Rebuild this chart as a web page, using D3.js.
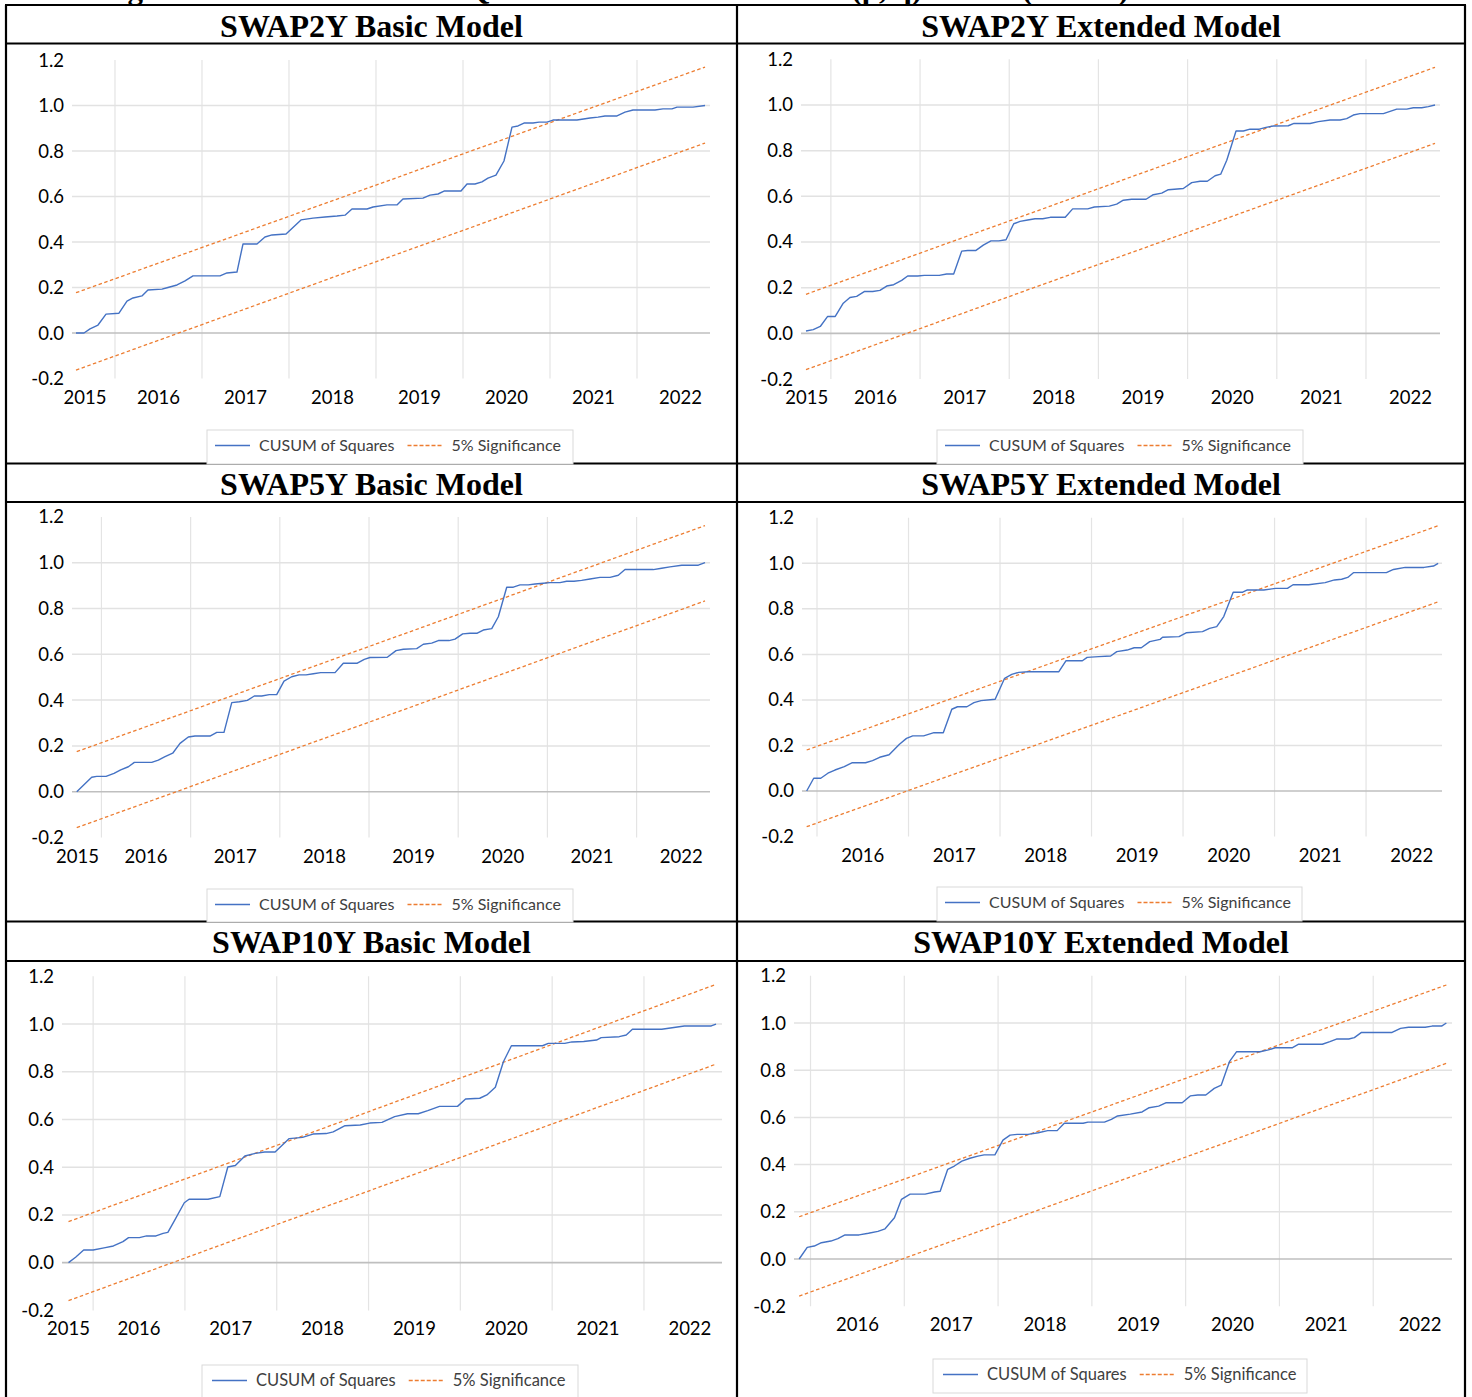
<!DOCTYPE html>
<html>
<head>
<meta charset="utf-8">
<script src="https://cdn.jsdelivr.net/npm/d3@7"></script>
<style>
  html, body { margin: 0; padding: 0; background: #ffffff; }
  svg { display: block; }
</style>
</head>
<body>
<svg id="chart" width="1472" height="1397"></svg>
<script>
// ---------------- DATA ----------------
const xTickYears = [2015, 2016, 2017, 2018, 2019, 2020, 2021, 2022];
const yTickValues = [-0.2, 0.0, 0.2, 0.4, 0.6, 0.8, 1.0, 1.2];
const seriesNames = ["CUSUM of Squares", "5% Significance"];
const panelTitles = ["SWAP2Y Basic Model", "SWAP2Y Extended Model", "SWAP5Y Basic Model",
                     "SWAP5Y Extended Model", "SWAP10Y Basic Model", "SWAP10Y Extended Model"];
const captionText = "Figure 6: Plots of CUSUMSQ Test Results for the ARDL (p, q) Model (SWAP)";

// CUSUM of squares: [time in years, value]
const swap2yBasic = [[2015.052,0],[2015.144,0],[2015.213,0.018],[2015.305,0.035],[2015.397,0.083],[2015.546,0.087],[2015.638,0.14],[2015.707,0.154],[2015.810,0.163],[2015.879,0.189],[2016.040,0.193],[2016.109,0.20],[2016.213,0.211],[2016.305,0.229],[2016.397,0.251],[2016.707,0.251],[2016.787,0.264],[2016.902,0.268],[2016.971,0.391],[2017.132,0.391],[2017.224,0.422],[2017.305,0.431],[2017.466,0.435],[2017.638,0.497],[2017.776,0.505],[2017.914,0.51],[2018.052,0.514],[2018.144,0.518],[2018.224,0.545],[2018.397,0.545],[2018.466,0.554],[2018.626,0.563],[2018.741,0.563],[2018.810,0.589],[2019.040,0.593],[2019.121,0.606],[2019.213,0.611],[2019.282,0.624],[2019.477,0.624],[2019.546,0.655],[2019.638,0.655],[2019.718,0.664],[2019.787,0.681],[2019.879,0.694],[2019.971,0.756],[2020.063,0.905],[2020.132,0.91],[2020.201,0.923],[2020.305,0.923],[2020.374,0.927],[2020.466,0.927],[2020.534,0.936],[2020.810,0.936],[2020.960,0.945],[2021.052,0.949],[2021.132,0.954],[2021.270,0.954],[2021.362,0.971],[2021.454,0.98],[2021.707,0.98],[2021.799,0.985],[2021.902,0.985],[2021.960,0.993],[2022.144,0.993],[2022.282,1.0]];
const swap2yExtended = [[2015.221,0.010],[2015.302,0.016],[2015.381,0.030],[2015.464,0.074],[2015.549,0.074],[2015.639,0.132],[2015.714,0.157],[2015.789,0.162],[2015.874,0.183],[2015.969,0.183],[2016.050,0.188],[2016.126,0.207],[2016.204,0.213],[2016.294,0.232],[2016.361,0.251],[2016.473,0.251],[2016.547,0.254],[2016.715,0.254],[2016.798,0.260],[2016.877,0.260],[2016.967,0.360],[2017.034,0.363],[2017.127,0.363],[2017.209,0.386],[2017.295,0.405],[2017.382,0.405],[2017.464,0.410],[2017.550,0.480],[2017.621,0.490],[2017.707,0.496],[2017.789,0.502],[2017.875,0.502],[2017.960,0.508],[2018.128,0.508],[2018.211,0.545],[2018.380,0.545],[2018.454,0.553],[2018.622,0.557],[2018.705,0.566],[2018.779,0.583],[2018.873,0.587],[2019.034,0.587],[2019.115,0.607],[2019.210,0.614],[2019.284,0.629],[2019.452,0.634],[2019.546,0.660],[2019.640,0.666],[2019.721,0.666],[2019.808,0.690],[2019.871,0.697],[2019.939,0.758],[2020.043,0.886],[2020.125,0.886],[2020.200,0.894],[2020.304,0.894],[2020.379,0.902],[2020.461,0.908],[2020.629,0.909],[2020.693,0.919],[2020.873,0.919],[2020.966,0.927],[2021.097,0.934],[2021.209,0.934],[2021.284,0.940],[2021.358,0.956],[2021.433,0.962],[2021.695,0.962],[2021.770,0.972],[2021.845,0.982],[2021.957,0.982],[2022.031,0.988],[2022.125,0.988],[2022.199,0.993],[2022.274,1.0]];
const swap5yBasic = [[2015.223,0],[2015.391,0.063],[2015.447,0.067],[2015.552,0.067],[2015.641,0.080],[2015.716,0.095],[2015.802,0.109],[2015.869,0.128],[2016.064,0.128],[2016.138,0.138],[2016.213,0.153],[2016.299,0.168],[2016.381,0.211],[2016.474,0.239],[2016.549,0.243],[2016.717,0.243],[2016.793,0.259],[2016.874,0.259],[2016.961,0.389],[2017.046,0.393],[2017.136,0.399],[2017.214,0.418],[2017.297,0.418],[2017.382,0.424],[2017.465,0.424],[2017.547,0.483],[2017.633,0.502],[2017.715,0.510],[2017.794,0.510],[2017.876,0.515],[2017.958,0.520],[2018.119,0.520],[2018.212,0.561],[2018.369,0.561],[2018.447,0.578],[2018.511,0.586],[2018.705,0.587],[2018.803,0.616],[2018.885,0.622],[2019.035,0.625],[2019.109,0.644],[2019.203,0.649],[2019.277,0.660],[2019.397,0.660],[2019.464,0.666],[2019.550,0.689],[2019.632,0.692],[2019.714,0.692],[2019.781,0.706],[2019.876,0.712],[2019.950,0.764],[2020.044,0.893],[2020.118,0.893],[2020.193,0.903],[2020.286,0.903],[2020.361,0.907],[2020.454,0.910],[2020.529,0.913],[2020.641,0.913],[2020.716,0.919],[2020.798,0.919],[2020.884,0.923],[2020.978,0.929],[2021.090,0.936],[2021.202,0.936],[2021.295,0.945],[2021.370,0.970],[2021.687,0.970],[2021.781,0.976],[2021.874,0.982],[2022.006,0.989],[2022.192,0.989],[2022.267,1.0]];
const swap5yExtended = [[2015.387,0],[2015.464,0.056],[2015.541,0.056],[2015.619,0.078],[2015.696,0.092],[2015.798,0.107],[2015.886,0.124],[2016.030,0.124],[2016.107,0.133],[2016.185,0.148],[2016.288,0.159],[2016.401,0.205],[2016.478,0.231],[2016.546,0.242],[2016.665,0.242],[2016.778,0.256],[2016.880,0.256],[2016.973,0.359],[2017.035,0.370],[2017.138,0.370],[2017.215,0.388],[2017.293,0.397],[2017.447,0.403],[2017.550,0.495],[2017.628,0.512],[2017.705,0.521],[2017.807,0.524],[2018.143,0.524],[2018.220,0.572],[2018.400,0.572],[2018.452,0.587],[2018.580,0.590],[2018.709,0.593],[2018.776,0.612],[2018.889,0.619],[2018.966,0.629],[2019.044,0.629],[2019.136,0.656],[2019.250,0.666],[2019.276,0.675],[2019.456,0.678],[2019.534,0.695],[2019.713,0.700],[2019.790,0.714],[2019.868,0.722],[2019.945,0.766],[2020.048,0.873],[2020.152,0.873],[2020.203,0.883],[2020.383,0.883],[2020.512,0.890],[2020.641,0.890],[2020.702,0.906],[2020.872,0.906],[2021.053,0.915],[2021.155,0.927],[2021.233,0.930],[2021.300,0.938],[2021.362,0.959],[2021.722,0.959],[2021.800,0.973],[2021.928,0.982],[2022.134,0.982],[2022.237,0.988],[2022.288,1.0]];
const swap10yBasic = [[2015.232,0],[2015.309,0.023],[2015.397,0.053],[2015.500,0.053],[2015.619,0.062],[2015.721,0.070],[2015.825,0.088],[2015.886,0.105],[2016.004,0.105],[2016.082,0.112],[2016.185,0.112],[2016.262,0.123],[2016.314,0.127],[2016.380,0.172],[2016.493,0.251],[2016.545,0.266],[2016.751,0.266],[2016.880,0.277],[2016.967,0.401],[2017.049,0.407],[2017.153,0.447],[2017.266,0.458],[2017.369,0.464],[2017.482,0.464],[2017.636,0.520],[2017.781,0.525],[2017.894,0.539],[2018.038,0.541],[2018.115,0.548],[2018.244,0.574],[2018.409,0.577],[2018.512,0.585],[2018.646,0.588],[2018.784,0.612],[2018.924,0.624],[2019.041,0.624],[2019.145,0.637],[2019.273,0.655],[2019.469,0.655],[2019.557,0.686],[2019.711,0.689],[2019.789,0.703],[2019.881,0.735],[2019.969,0.842],[2020.056,0.909],[2020.395,0.909],[2020.458,0.919],[2020.637,0.919],[2020.715,0.925],[2020.843,0.927],[2020.983,0.933],[2021.034,0.943],[2021.230,0.947],[2021.307,0.954],[2021.374,0.978],[2021.693,0.978],[2021.940,0.992],[2022.233,0.992],[2022.285,1.0]];
const swap10yExtended = [[2015.379,0],[2015.465,0.049],[2015.540,0.055],[2015.616,0.069],[2015.717,0.076],[2015.792,0.086],[2015.868,0.102],[2016.018,0.102],[2016.118,0.109],[2016.219,0.117],[2016.295,0.128],[2016.395,0.175],[2016.470,0.253],[2016.562,0.275],[2016.722,0.275],[2016.823,0.284],[2016.883,0.287],[2016.963,0.380],[2017.034,0.394],[2017.114,0.415],[2017.200,0.427],[2017.285,0.436],[2017.351,0.441],[2017.466,0.441],[2017.552,0.504],[2017.628,0.525],[2017.703,0.528],[2017.819,0.528],[2017.929,0.535],[2018.029,0.544],[2018.130,0.544],[2018.206,0.575],[2018.407,0.575],[2018.458,0.580],[2018.634,0.580],[2018.708,0.592],[2018.774,0.606],[2018.910,0.614],[2019.036,0.623],[2019.111,0.641],[2019.212,0.648],[2019.288,0.662],[2019.463,0.662],[2019.549,0.691],[2019.629,0.695],[2019.715,0.695],[2019.805,0.723],[2019.880,0.737],[2019.967,0.836],[2020.042,0.878],[2020.293,0.878],[2020.383,0.886],[2020.454,0.895],[2020.635,0.895],[2020.705,0.910],[2020.957,0.910],[2021.038,0.921],[2021.108,0.932],[2021.239,0.932],[2021.299,0.938],[2021.375,0.960],[2021.701,0.960],[2021.791,0.977],[2021.877,0.982],[2022.054,0.982],[2022.128,0.987],[2022.229,0.987],[2022.280,1.0]];

// 5% significance bounds: value at first and at last observation
const upperBounds = [[0.177,1.169],[0.171,1.165],[0.175,1.162],[0.180,1.165],[0.172,1.166],[0.179,1.161]];
const lowerBounds = [[-0.163,0.835],[-0.159,0.832],[-0.157,0.833],[-0.157,0.831],[-0.159,0.832],[-0.157,0.829]];
// position (in years) of the first, partial-year "2015" label (null = not shown)
const firstLabelAt = [2015.155, 2015.23, 2015.232, null, 2015.232, null];

// ---------------- LAYOUT ----------------
const series = [swap2yBasic, swap2yExtended, swap5yBasic, swap5yExtended, swap10yBasic, swap10yExtended];
const layout = [
  {titleBase: 36.5, plot:{l:72,  r:710,  t:60,    b:378.5},  dom:[2015.006,2022.339], legend:{x:207,y:430,  w:366,h:34, fs:16}},
  {titleBase: 36.5, plot:{l:801, r:1440, t:59.3,  b:379},    dom:[2015.165,2022.33],  legend:{x:937,y:430,  w:366,h:34, fs:16}},
  {titleBase: 494.5,plot:{l:72,  r:710,  t:516.9, b:837.5},  dom:[2015.170,2022.323], legend:{x:207,y:889,  w:366,h:33, fs:16}},
  {titleBase: 494.5,plot:{l:802, r:1442, t:517.8, b:836.5},  dom:[2015.336,2022.33],  legend:{x:937,y:887,  w:365,h:34, fs:16}},
  {titleBase: 952.5,plot:{l:62,  r:722,  t:976.3, b:1310.4}, dom:[2015.161,2022.35],  legend:{x:202,y:1365, w:376,h:40, fs:16.5}},
  {titleBase: 952.5,plot:{l:794, r:1452, t:975.8, b:1306.2}, dom:[2015.324,2022.34],  legend:{x:933,y:1359, w:374,h:34, fs:16.5}}
];
const cols = [[6, 737], [737, 1465]];
const hLines = [5, 43.5, 463.5, 502, 921.5, 961];
const COL_BLUE = "#4472C4", COL_ORANGE = "#ED7D31";
const SANS = "Lato, 'Open Sans', sans-serif";
const SERIF = "'Liberation Serif', 'Times New Roman', serif";

const svg = d3.select("#chart");
svg.append("rect").attr("width", 1472).attr("height", 1397).attr("fill", "#fff");

// caption above the table, cut off by the top edge (only descenders visible)
svg.append("text").attr("x", 100).attr("y", -1.5).attr("text-anchor", "start")
  .attr("font-family", SERIF).attr("font-weight", "bold").attr("font-size", 31)
  .text(captionText);

function drawPanel(i) {
  const L = layout[i], P = L.plot, data = series[i];
  const col = cols[i % 2];
  const g = svg.append("g");
  const x = d3.scaleLinear().domain(L.dom).range([P.l, P.r]);
  const y = d3.scaleLinear().domain([yTickValues[0], yTickValues[yTickValues.length - 1]]).range([P.b, P.t]);

  // title
  g.append("text").attr("x", (col[0] + col[1]) / 2).attr("y", L.titleBase)
    .attr("text-anchor", "middle").attr("font-family", SERIF).attr("font-weight", "bold")
    .attr("font-size", 32).attr("fill", "#000").text(panelTitles[i]);

  // vertical gridlines between year groups
  const vg = xTickYears.slice(0, -1).map(d => d + 0.5).filter(d => d > L.dom[0] && d < L.dom[1]);
  g.selectAll(".vg").data(vg).enter().append("line")
    .attr("x1", d => x(d)).attr("x2", d => x(d)).attr("y1", y(1.2)).attr("y2", y(-0.2))
    .attr("stroke", "#e4e4e4").attr("stroke-width", 1.2);

  // horizontal gridlines
  const hg = yTickValues.filter(v => v > 0.001 && v < 1.19);
  g.selectAll(".hg").data(hg).enter().append("line")
    .attr("x1", P.l).attr("x2", P.r).attr("y1", d => y(d)).attr("y2", d => y(d))
    .attr("stroke", "#e2e2e2").attr("stroke-width", 1.5);
  // zero axis
  g.append("line").attr("x1", P.l).attr("x2", P.r).attr("y1", y(0)).attr("y2", y(0))
    .attr("stroke", "#bfbfbf").attr("stroke-width", 1.6);

  // y tick labels
  g.selectAll(".yl").data(yTickValues).enter().append("text")
    .attr("x", P.l - 8).attr("y", d => y(d) + 6.5).attr("text-anchor", "end")
    .attr("font-family", SANS).attr("font-size", 18.5).attr("fill", "#000")
    .text(d => d.toFixed(1));

  // x tick labels
  const xl = xTickYears.map(yr => ({yr, pos: yr === 2015 ? firstLabelAt[i] : yr}))
    .filter(d => d.pos !== null);
  g.selectAll(".xl").data(xl).enter().append("text")
    .attr("x", d => x(d.pos)).attr("y", P.b + 25).attr("text-anchor", "middle")
    .attr("font-family", SANS).attr("font-size", 18.5).attr("fill", "#000")
    .text(d => d.yr);

  // significance bounds
  const t0 = data[0][0], t1 = data[data.length - 1][0];
  [upperBounds[i], lowerBounds[i]].forEach(b => {
    g.append("path").datum([[t0, b[0]], [t1, b[1]]])
      .attr("d", d3.line().x(d => x(d[0])).y(d => y(d[1])))
      .attr("fill", "none").attr("stroke", COL_ORANGE).attr("stroke-width", 1.3)
      .attr("stroke-dasharray", "3.5,2.5");
  });

  // CUSUM line
  g.append("path").datum(data)
    .attr("d", d3.line().x(d => x(d[0])).y(d => y(d[1])))
    .attr("fill", "none").attr("stroke", COL_BLUE).attr("stroke-width", 1.4)
    .attr("stroke-linejoin", "round");
}

function drawLegend(i) {
  const Lg = layout[i].legend;
  const g = svg.append("g");
  g.append("rect").attr("x", Lg.x).attr("y", Lg.y).attr("width", Lg.w).attr("height", Lg.h)
    .attr("fill", "#fff").attr("stroke", "#d9d9d9").attr("stroke-width", 1);
  const cy = Lg.y + 15.5;
  let cx = Lg.x + 8 + (Lg.fs - 16) * 4;
  const items = [{name: seriesNames[0], color: COL_BLUE, dash: null},
                 {name: seriesNames[1], color: COL_ORANGE, dash: "4,2"}];
  items.forEach((it, k) => {
    g.append("line").attr("x1", cx).attr("x2", cx + 35).attr("y1", cy).attr("y2", cy)
      .attr("stroke", it.color).attr("stroke-width", 1.3).attr("stroke-dasharray", it.dash);
    const t = g.append("text").attr("x", cx + 44).attr("y", cy + 5.5)
      .attr("font-family", SANS).attr("font-size", Lg.fs).attr("fill", "#404040").text(it.name);
    cx = cx + 44 + t.node().getComputedTextLength() + 13;
  });
}

for (let i = 0; i < 6; i++) drawPanel(i);

// table grid
const tg = svg.append("g").attr("stroke", "#000").attr("stroke-width", 2.2);
hLines.forEach(yv => tg.append("line").attr("x1", cols[0][0] - 1).attr("x2", cols[1][1] + 1).attr("y1", yv).attr("y2", yv));
[cols[0][0], cols[0][1], cols[1][1]].forEach(xv => tg.append("line").attr("x1", xv).attr("x2", xv).attr("y1", hLines[0]).attr("y2", 1397));

for (let i = 0; i < 6; i++) drawLegend(i);
</script>
</body>
</html>
